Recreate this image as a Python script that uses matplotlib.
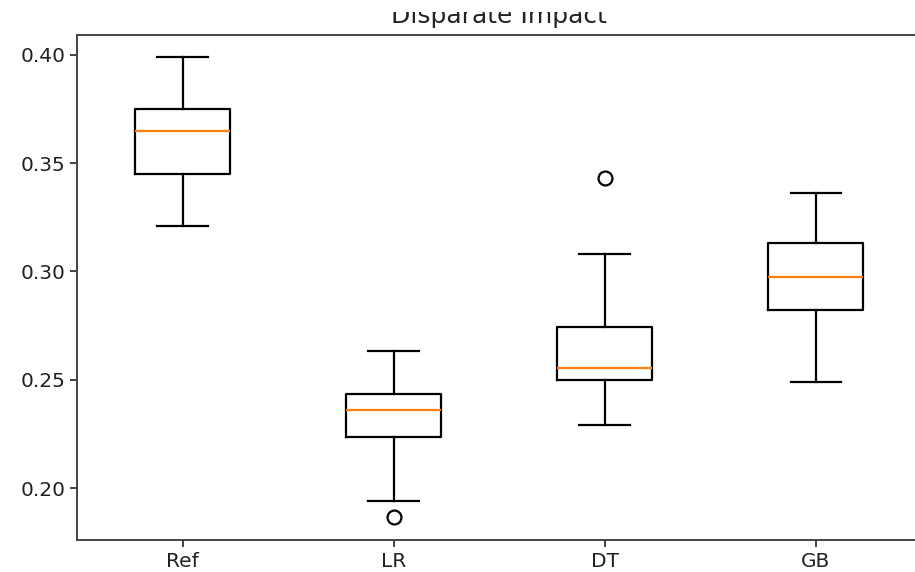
import matplotlib
matplotlib.use('Agg')
import matplotlib.pyplot as plt
from matplotlib.patches import Rectangle

# 各模型的 Disparate Impact 分佈
labels = ['Ref', 'LR', 'DT', 'GB']
whisker_low = [0.321, 0.194, 0.229, 0.249]
q1 = [0.345, 0.2236, 0.250, 0.2823]
median = [0.365, 0.236, 0.2555, 0.2975]
q3 = [0.375, 0.2435, 0.2744, 0.3132]
whisker_high = [0.399, 0.2633, 0.308, 0.3363]
fliers = [[], [0.1867], [0.343], []]

stats = []
for i in range(len(labels)):
    stats.append({
        'label': labels[i],
        'whislo': whisker_low[i],
        'q1': q1[i],
        'med': median[i],
        'q3': q3[i],
        'whishi': whisker_high[i],
        'fliers': fliers[i],
    })

fig = plt.figure(figsize=(9.15, 5.72), dpi=100)
ax = fig.add_axes([77 / 915, 32 / 572, (921.5 - 77) / 915, (540 - 35) / 572])

lw = 1.6
ax.bxp(stats, widths=0.45, capwidths=0.24,
       boxprops=dict(linewidth=lw, color='black'),
       whiskerprops=dict(linewidth=lw, color='black'),
       capprops=dict(linewidth=lw, color='black'),
       medianprops=dict(linewidth=lw, color='#ff7f0e'),
       flierprops=dict(marker='o', markerfacecolor='none', markeredgecolor='black',
                       markersize=10, markeredgewidth=1.6))

ax.set_xlim(0.5, 4.5)
ax.set_ylim(0.176, 0.4092)
ax.set_yticks([0.20, 0.25, 0.30, 0.35, 0.40])
ax.set_yticklabels(['0.20', '0.25', '0.30', '0.35', '0.40'])
ax.tick_params(labelsize=14.5, width=1.2, length=5, colors='#222222')
for s in ax.spines.values():
    s.set_linewidth(1.4)
    s.set_color('#444444')
ax.set_title('Disparate Impact', fontsize=18, pad=8.5, color='#222222')

# 原圖上方被裁掉, 標題只剩下半部
fig.add_artist(Rectangle((0, 1 - 12 / 572), 1, 12 / 572, transform=fig.transFigure,
                         facecolor='white', edgecolor='none', zorder=10))

fig.savefig('out.png', dpi=100)
